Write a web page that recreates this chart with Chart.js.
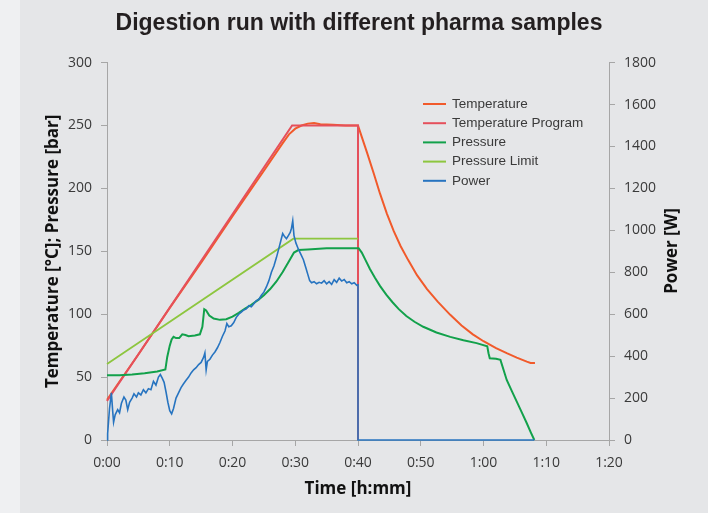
<!DOCTYPE html>
<html><head><meta charset="utf-8">
<script src="https://cdn.jsdelivr.net/npm/chart.js@4"></script>
<style>
html,body{margin:0;padding:0;background:#fff;}
#wrap{position:relative;width:718px;height:513px;background:linear-gradient(to right,#eff0f2 0px,#eff0f2 20px,#e5e6e8 20px,#e5e6e8 708px,#ffffff 708px);}
canvas{position:absolute;left:0;top:0;}
</style></head><body>
<div id="wrap"><canvas id="c" width="718" height="513"></canvas></div>
<script>
// ---- data (time in minutes) ----
const xTickLabels = ['0:00','0:10','0:20','0:30','0:40','0:50','1:00','1:10','1:20'];
const seriesNames = ['Temperature','Temperature Program','Pressure','Pressure Limit','Power'];

const tempTime   = [0,2,5,10,15,20,25,28,29,30,31,32,33,34,36,38,40,40.6,41.4,42.5,43.5,44.6,45.7,46.8,48,49.4,51,52.7,54.7,56.5,58.3,60,62,63.7,65.3,66.9,67.5,68.2];
const tempValues = [32,46.5,68,105,141,178,214,236,243,247.5,250,251.5,252,251,250.5,250,250,241,229,212,196,180,166,154,143,131,120,110,99.5,91,84,78.5,73,69,65.5,62.3,61.3,61.3];

const progTime   = [0,29.5,40,40];
const progValues = [31,250,250,0];

const pressTime   = [0,2,4,6,8,9.3,9.6,10,10.3,10.6,11,11.5,12,12.5,13,14,14.8,15.2,15.5,15.8,16.3,17,18,19,20,21,22,23,24,25,26,27,28,29,29.8,30.5,32,35,38,40.1,40.6,41.2,41.9,42.7,43.5,44.5,45.5,46.5,47.7,49,50.4,52.5,54.7,56.8,58.9,60.6,60.8,61,62,62.7,63.7,64.5,65.3,66.1,66.9,67.5,68.1];
const pressValues = [51.5,51.5,52,53,54.5,56,66,75,80,82,81,81,84,83.5,82.5,83,84,90,104,103,99,96.5,95.5,96,98,101,104.5,107.5,111,115,120,126,133.5,142,149,151,151.5,152.5,152.5,152.5,149,143,136,129,122.5,115.5,109.5,104,98.5,94,90,85.5,82,79.3,77,74.5,69,65,64.5,63.7,47.7,39,30.5,22,13.3,6.5,0];

const limitTime   = [0,29.7,40];
const limitValues = [60.5,160,160];

const powerTime   = [0,0.1,0.4,0.7,0.9,1.05,1.3,1.7,2.0,2.3,2.7,3.0,3.3,3.6,4.0,4.3,4.7,5.0,5.4,5.8,6.2,6.6,7.0,7.4,7.8,8.2,8.5,8.8,9.1,9.4,9.7,10.0,10.3,10.6,11.0,11.4,11.8,12.2,12.6,13.0,13.4,13.8,14.2,14.6,15.0,15.4,15.6,15.8,16.0,16.4,16.8,17.2,17.6,18.0,18.4,18.8,19.1,19.4,19.8,20.2,20.6,21.0,21.4,21.8,22.2,22.6,23.0,23.4,23.8,24.2,24.6,25.0,25.4,25.8,26.2,26.6,27.0,27.4,27.7,28.0,28.3,28.6,28.9,29.2,29.4,29.6,29.8,30.1,30.5,30.9,31.3,31.7,32.0,32.3,32.6,33.0,33.4,33.8,34.2,34.6,35.0,35.4,35.8,36.2,36.6,37.0,37.4,37.8,38.2,38.6,39.0,39.4,39.8,40.0,40.0,68.1];
const powerValues = [0,30,150,225,140,85,120,145,130,175,205,190,145,180,200,220,205,225,215,240,225,245,240,280,262,300,312,295,275,230,180,140,125,150,200,225,250,268,285,300,320,335,345,360,370,395,415,335,375,385,405,420,440,465,495,520,555,540,545,560,585,600,610,620,625,640,635,650,665,670,690,705,730,760,800,830,870,915,950,985,970,960,975,990,1010,1045,975,940,910,885,860,820,790,760,750,755,745,752,748,760,745,755,742,765,752,772,758,765,750,755,745,750,738,740,0,0];

const yLeftMax = 300, yRightMax = 1800;

function pts(t, v){ return t.map((x,i)=>({x:x,y:v[i]})); }

const colors = ['#f15a2b','#e5505c','#12a14b','#8dc63f','#2774c0'];

const legendPlugin = {
  id:'customLegend',
  afterDraw(chart){
    const ctx = chart.ctx;
    ctx.save();
    ctx.font = '13.5px "Liberation Sans", Arial, sans-serif';
    ctx.textBaseline = 'middle';
    ctx.textAlign = 'left';
    const x0 = 423, y0 = 104, dy = 19.2;
    chart.data.datasets.forEach((ds,i)=>{
      const y = y0 + i*dy;
      ctx.strokeStyle = ds.borderColor;
      ctx.lineWidth = 2;
      ctx.beginPath(); ctx.moveTo(x0,y); ctx.lineTo(x0+23,y); ctx.stroke();
      ctx.fillStyle = '#3a3a3a';
      ctx.fillText(ds.label, x0+29, y);
    });
    // right axis title (reads bottom-to-top)
    ctx.translate(672, 251);
    ctx.rotate(-Math.PI/2);
    ctx.font = 'bold 17px "Open Sans", sans-serif';
    ctx.fillStyle = '#111';
    ctx.textAlign = 'center';
    ctx.fillText('Power [W]', 0, 0);
    ctx.restore();
  }
};

const tickFont = {family:'"Open Sans", sans-serif', size:14};
const axisCol = '#a6a6a6';

new Chart(document.getElementById('c'), {
  type:'line',
  data:{
    datasets:[
      {label:seriesNames[0], data:pts(tempTime,tempValues), borderColor:colors[0], borderWidth:2, yAxisID:'y', order:4, clip:4},
      {label:seriesNames[1], data:pts(progTime,progValues), borderColor:colors[1], borderWidth:2, yAxisID:'y', order:3, clip:4},
      {label:seriesNames[2], data:pts(pressTime,pressValues), borderColor:colors[2], borderWidth:2, yAxisID:'y', order:2, clip:4},
      {label:seriesNames[3], data:pts(limitTime,limitValues), borderColor:colors[3], borderWidth:1.8, yAxisID:'y', order:1, clip:4},
      {label:seriesNames[4], data:pts(powerTime,powerValues), borderColor:colors[4], borderWidth:1.6, yAxisID:'y1', order:0, clip:4}
    ]
  },
  options:{
    responsive:false, animation:false,
    elements:{point:{radius:0}, line:{tension:0, fill:false}},
    layout:{padding:{left:39, right:39, top:0, bottom:10}},
    plugins:{
      legend:{display:false},
      tooltip:{enabled:false},
      title:{display:true, text:'Digestion run with different pharma samples',
        color:'#231f20', font:{family:'"Liberation Sans", Arial, sans-serif', size:23, weight:'bold'},
        padding:{top:10, bottom:25}}
    },
    scales:{
      x:{type:'linear', min:0, max:80,
        afterFit(s){ s.height = 63; },
        ticks:{stepSize:10, font:tickFont, color:'#3a3a3a', padding:9, maxRotation:0,
          callback:(v,i)=>xTickLabels[i]},
        grid:{drawOnChartArea:false, drawTicks:true, tickLength:6, color:axisCol},
        border:{color:axisCol},
        title:{display:true, text:'Time [h:mm]', color:'#111', font:{family:'"Open Sans", sans-serif', size:17, weight:'bold'}, padding:{top:4,bottom:4}}
      },
      y:{position:'left', min:0, max:yLeftMax,
        afterFit(s){ s.width = 68; },
        ticks:{stepSize:50, font:tickFont, color:'#3a3a3a', padding:9},
        grid:{drawOnChartArea:false, drawTicks:true, tickLength:6, color:axisCol},
        border:{color:axisCol},
        title:{display:true, text:'Temperature [°C]; Pressure [bar]', color:'#111', font:{family:'"Open Sans", sans-serif', size:17, weight:'bold'}, padding:{top:4,bottom:4}}
      },
      y1:{position:'right', min:0, max:yRightMax,
        afterFit(s){ s.width = 70; },
        ticks:{stepSize:200, font:tickFont, color:'#3a3a3a', padding:9, callback:(v)=>String(v)},
        grid:{drawOnChartArea:false, drawTicks:true, tickLength:6, color:axisCol},
        border:{color:axisCol}
      }
    }
  },
  plugins:[legendPlugin]
});
</script>
</body></html>
